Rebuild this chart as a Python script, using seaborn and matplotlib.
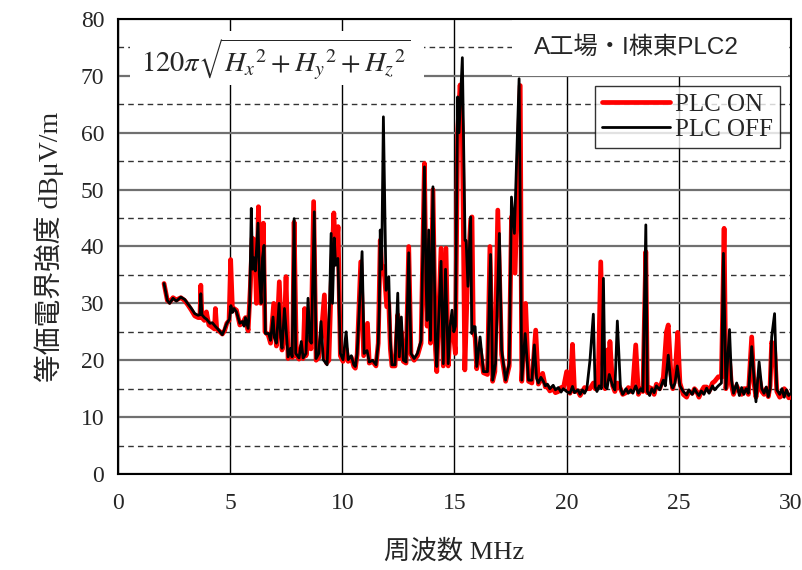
import matplotlib
matplotlib.use('Agg')
import matplotlib.pyplot as plt
import seaborn as sns
import pandas as pd
from matplotlib.patches import Rectangle
from matplotlib.ticker import MultipleLocator

# PLC OFF (black)
freq_off = [2.05, 2.2, 2.3, 2.45, 2.6, 2.8, 2.97, 3.12, 3.27, 3.42, 3.57, 3.65, 3.69, 3.74, 3.85,
            3.95, 4.1, 4.2, 4.35, 4.45, 4.55, 4.65, 4.75, 4.85, 4.97, 5.03, 5.1, 5.17, 5.28, 5.43,
            5.55, 5.62, 5.68, 5.8, 5.87, 5.94, 6.0, 6.07, 6.12, 6.24, 6.3, 6.38, 6.44, 6.51, 6.57,
            6.72, 6.8, 6.91, 6.97, 7.06, 7.18, 7.25, 7.31, 7.42, 7.5, 7.58, 7.69, 7.76, 7.85, 7.92,
            8.07, 8.17, 8.25, 8.38, 8.47, 8.55, 8.62, 8.75, 8.83, 8.95, 9.05, 9.15, 9.32, 9.43, 9.5,
            9.56, 9.64, 9.7, 9.8, 9.91, 10.03, 10.17, 10.26, 10.4, 10.51, 10.58, 10.66, 10.88, 10.97,
            11.1, 11.2, 11.35, 11.5, 11.6, 11.65, 11.69, 11.75, 11.83, 11.95, 12.07, 12.14, 12.21,
            12.35, 12.47, 12.54, 12.63, 12.72, 12.84, 12.96, 13.06, 13.2, 13.35, 13.51, 13.66, 13.73,
            13.78, 13.85, 13.93, 14.04, 14.15, 14.21, 14.4, 14.5, 14.6, 14.72, 14.8, 14.89, 14.97,
            15.04, 15.14, 15.2, 15.35, 15.47, 15.52, 15.6, 15.72, 15.77, 15.84, 15.92, 15.99, 16.14,
            16.29, 16.47, 16.61, 16.7, 16.83, 17.0, 17.1, 17.28, 17.44, 17.54, 17.67, 17.88,
            18.0, 18.15, 18.3, 18.45, 18.56, 18.66, 18.74, 18.85, 18.96, 19.05,
            19.14, 19.25, 19.4, 19.5, 19.63, 19.75, 19.85, 20.0, 20.15, 20.26,
            20.35, 20.5, 20.6, 20.7, 20.8, 20.9, 21.04, 21.19, 21.27, 21.35,
            21.45, 21.55, 21.64, 21.71, 21.8, 21.9, 22.05, 22.15, 22.26, 22.4,
            22.5, 22.65, 22.75, 22.86, 22.95, 23.08, 23.2, 23.3, 23.4, 23.53,
            23.6, 23.7, 23.8, 23.9, 24.0, 24.15, 24.31, 24.4, 24.53, 24.65,
            24.73, 24.83, 24.93, 25.05, 25.2, 25.35, 25.45, 25.6, 25.7, 25.8,
            25.9, 26.0, 26.12, 26.24, 26.35, 26.5, 26.6, 26.76, 26.9, 26.99,
            27.1, 27.26, 27.35, 27.44, 27.58, 27.7, 27.8, 27.9, 28.0, 28.1,
            28.25, 28.35, 28.44, 28.58, 28.7, 28.8, 28.9, 28.99, 29.07, 29.14,
            29.27, 29.37, 29.5, 29.6, 29.7, 29.8, 29.9, 30.0]
db_off = [33.5, 30.5, 30.0, 30.9, 30.4, 31.1, 30.7, 29.9, 29.1, 28.2, 27.9, 28.0, 31.7, 28.0, 27.5,
          27.2, 26.5, 26.6, 25.9, 25.5, 25.0, 24.5, 25.5, 26.5, 27.2, 29.6, 28.4, 29.1, 28.5, 26.5,
          26.8, 26.0, 27.5, 25.6, 30.0, 46.7, 36.0, 38.0, 35.7, 44.1, 35.0, 30.0, 38.0, 40.2, 24.7,
          24.7, 23.5, 27.6, 24.0, 23.0, 30.0, 24.0, 22.1, 29.1, 25.0, 20.6, 22.1, 20.6, 44.9, 21.2,
          20.4, 23.3, 20.4, 21.2, 30.9, 23.4, 23.0, 46.1, 20.3, 21.2, 26.8, 20.1, 19.2, 30.0, 42.3,
          30.0, 41.5, 36.7, 37.9, 21.2, 20.1, 25.0, 20.1, 20.8, 19.2, 18.9, 21.2, 39.1, 21.2,
          21.7, 19.7, 20.0, 19.2, 23.0, 29.4, 42.9, 36.0, 62.8, 32.3, 34.7, 23.5, 19.2,
          19.2, 31.8, 20.6, 27.6, 20.0, 19.7, 38.9, 21.2, 20.3, 21.2, 23.5, 54.0, 34.1,
          27.0, 42.9, 23.5, 50.5, 23.5, 18.9, 37.4, 19.4, 36.0, 19.4, 25.9, 28.8, 25.0,
          26.0, 66.3, 60.0, 73.2, 41.1, 41.0, 33.0, 45.2, 24.7, 25.9, 25.9, 18.9, 24.1,
          18.0, 18.0, 38.6, 16.5, 19.4, 42.3, 21.8, 16.5, 19.5, 48.7, 42.3, 69.5,
          16.5, 24.7, 16.5, 16.5, 22.7, 16.8, 16.0, 17.0, 16.3, 15.5,
          15.8, 15.0, 15.6, 14.8, 15.2, 14.4, 15.0, 14.5, 14.2, 15.4,
          14.3, 14.8, 14.0, 14.8, 14.2, 15.0, 20.0, 28.1, 15.3, 14.5,
          15.5, 15.0, 34.4, 15.4, 15.0, 17.5, 15.5, 14.8, 26.9, 15.1,
          14.0, 15.0, 14.2, 14.8, 14.2, 15.5, 14.2, 15.0, 14.5, 43.8,
          14.5, 13.8, 15.0, 14.3, 15.5, 14.8, 16.5, 15.5, 20.9, 15.8,
          15.1, 16.0, 19.0, 15.5, 14.5, 13.9, 14.8, 14.0, 15.0, 14.3,
          13.8, 14.6, 14.0, 15.1, 14.2, 15.5, 14.8, 15.5, 16.0, 38.8,
          15.0, 25.4, 16.5, 14.2, 16.0, 13.8, 15.2, 14.0, 15.0, 14.2,
          22.4, 17.0, 12.7, 19.7, 15.0, 14.2, 15.3, 13.6, 15.0, 24.1,
          28.2, 14.8, 14.0, 15.0, 13.5, 14.8, 13.8, 14.2]

# PLC ON (red)
freq_on = [2.05, 2.2, 2.3, 2.45, 2.6, 2.8, 2.97, 3.12, 3.27, 3.42, 3.57, 3.65, 3.69, 3.74, 3.85,
           3.94, 4.05, 4.2, 4.3, 4.34, 4.4, 4.55, 4.65, 4.75, 4.85, 4.95, 5.02, 5.1, 5.17, 5.28,
           5.43, 5.55, 5.68, 5.8, 5.9, 5.98, 6.09, 6.17, 6.26, 6.36, 6.48, 6.55, 6.7, 6.8, 6.94,
           7.06, 7.19, 7.31, 7.4, 7.49, 7.58, 7.7, 7.78, 7.85, 7.95, 8.07, 8.17, 8.25, 8.32, 8.38,
           8.5, 8.6, 8.72, 8.83, 8.95, 9.05, 9.2, 9.3, 9.4, 9.5, 9.62, 9.7, 9.81, 9.91, 10.03,
           10.17, 10.26, 10.4, 10.51, 10.58, 10.66, 10.82, 10.95, 11.12, 11.2, 11.35, 11.5, 11.6,
           11.69, 11.77, 11.85, 11.98, 12.07, 12.14, 12.21, 12.35, 12.47, 12.54, 12.63, 12.72,
           12.84, 12.96, 13.06, 13.2, 13.35, 13.51, 13.66, 13.73, 13.78, 13.85, 13.93, 14.04,
           14.15, 14.21, 14.4, 14.5, 14.62, 14.72, 14.8, 14.89, 14.97, 15.04, 15.14, 15.25, 15.35,
           15.46, 15.57, 15.72, 15.78, 15.84, 15.92, 15.99, 16.14, 16.29, 16.47, 16.58, 16.7, 16.8,
           16.93, 17.1, 17.28, 17.44, 17.54, 17.7, 17.93,
           18.0, 18.17, 18.3, 18.45, 18.62, 18.74, 18.85, 18.93, 19.05, 19.14,
           19.25, 19.4, 19.5, 19.63, 19.75, 19.85, 20.0, 20.15, 20.26, 20.35,
           20.5, 20.6, 20.7, 20.8, 20.9, 21.04, 21.19, 21.27, 21.4, 21.52,
           21.64, 21.71, 21.81, 21.87, 21.93, 22.05, 22.15, 22.26, 22.4, 22.5,
           22.65, 22.75, 22.86, 22.95, 23.08, 23.2, 23.3, 23.4, 23.53, 23.6,
           23.7, 23.8, 23.9, 24.0, 24.15, 24.31, 24.45, 24.53, 24.65, 24.73,
           24.83, 24.95, 25.05, 25.2, 25.35, 25.45, 25.6, 25.7, 25.8, 25.9,
           26.0, 26.12, 26.24, 26.35, 26.5, 26.6, 26.76, 26.9, 27.02, 27.1,
           27.26, 27.35, 27.44, 27.58, 27.7, 27.8, 27.9, 28.0, 28.1, 28.25,
           28.35, 28.44, 28.58, 28.7, 28.8, 28.9, 28.99, 29.07, 29.14, 29.27,
           29.37, 29.5, 29.6, 29.7, 29.8, 29.9, 30.0]
db_on = [33.5, 30.5, 30.2, 31.0, 30.6, 31.0, 30.5, 29.7, 28.8, 27.8, 27.5, 27.5, 33.2, 27.5, 27.0,
         28.5, 26.2, 25.8, 25.5, 29.1, 25.5, 25.0, 24.6, 25.2, 26.5, 27.0, 37.7, 29.0, 29.1, 28.8,
         26.2, 26.5, 27.5, 25.2, 33.0, 41.5, 41.1, 30.0, 47.0, 30.0, 44.1, 25.0, 24.4, 23.0, 30.0,
         22.5, 33.8, 21.8, 24.0, 34.7, 20.3, 21.5, 20.5, 44.3, 20.8, 20.2, 22.5, 20.3, 29.1, 20.8,
         24.0, 22.0, 47.9, 20.0, 20.5, 24.0, 31.5, 19.5, 20.0, 33.0, 45.9, 38.0, 43.5, 20.8, 19.8,
         22.0, 19.8, 20.5, 18.9, 18.6, 21.0, 37.3, 20.8, 26.5, 19.5, 19.8, 19.0, 23.0,
         41.1, 35.3, 36.5, 29.4, 30.0, 22.0, 19.0, 19.0, 28.0, 20.3, 25.0, 19.8,
         19.5, 40.0, 21.0, 20.0, 20.8, 23.0, 54.6, 33.0, 26.0, 41.0, 23.0, 50.0,
         22.0, 18.0, 39.7, 19.0, 39.7, 19.0, 25.0, 27.0, 24.0, 21.2, 60.0, 68.4, 60.0,
         18.3, 32.9, 44.6, 45.2, 25.0, 24.0, 18.5, 22.0, 17.8, 17.5, 40.0, 16.3, 18.0,
         46.4, 21.0, 16.3, 19.0, 45.2, 35.3, 68.3,
         16.3, 30.0, 16.3, 16.0, 25.3, 15.8, 16.5, 17.7, 15.3, 15.5,
         14.6, 15.0, 14.3, 14.5, 15.2, 15.0, 18.0, 14.2, 22.8, 14.5,
         14.6, 13.8, 14.5, 15.2, 15.0, 15.0, 16.0, 15.0, 15.5, 37.3,
         18.0, 15.0, 21.8, 17.0, 23.3, 15.5, 14.5, 16.0, 15.0, 14.0,
         14.3, 15.2, 14.5, 15.5, 22.7, 14.0, 15.0, 14.5, 39.1, 14.3,
         15.2, 15.0, 14.0, 15.8, 15.0, 17.0, 25.0, 26.2, 17.5, 15.0,
         17.0, 24.9, 16.0, 14.0, 13.5, 14.5, 14.2, 15.0, 14.5, 13.5,
         14.5, 15.3, 15.3, 14.5, 16.0, 16.3, 17.1, 17.0, 43.2, 15.0,
         20.0, 15.5, 14.0, 15.5, 14.5, 14.0, 15.0, 15.0, 14.0, 24.1,
         16.0, 13.5, 17.0, 14.5, 14.0, 15.0, 13.6, 15.5, 23.2, 22.0,
         14.5, 13.5, 13.8, 15.0, 14.5, 13.4, 13.5]

df_on = pd.DataFrame({'freq': freq_on, 'db': db_on})
df_off = pd.DataFrame({'freq': freq_off, 'db': db_off})

sns.set_style('white')
plt.rcParams['font.family'] = ['Liberation Serif', 'Noto Sans CJK JP']
plt.rcParams['mathtext.fontset'] = 'stix'

fig = plt.figure(figsize=(8.03, 5.70), dpi=100)
ax = fig.add_axes([0.147, 0.1684, 0.838, 0.7983])

sns.lineplot(data=df_on, x='freq', y='db', color='#ff0000', lw=3.4, label='PLC ON',
             estimator=None, sort=False, ax=ax, zorder=3)
sns.lineplot(data=df_off, x='freq', y='db', color='black', lw=2, label='PLC OFF',
             estimator=None, sort=False, ax=ax, zorder=4)

ax.set_xlim(0, 30)
ax.set_ylim(0, 80)
ax.xaxis.set_major_locator(MultipleLocator(5))
ax.yaxis.set_major_locator(MultipleLocator(10))
ax.yaxis.set_minor_locator(MultipleLocator(5))
ax.set_axisbelow(True)
ax.xaxis.grid(True, which='major', color='black', lw=1)
ax.yaxis.grid(True, which='major', color='#707070', lw=1.6)
ax.yaxis.grid(True, which='minor', color='#333333', lw=1, ls=(0, (4, 3)))
ax.tick_params(which='both', length=0, labelsize=17)
ax.tick_params(axis='x', pad=14)
ax.tick_params(axis='y', pad=10)
for s in ax.spines.values():
    s.set_color('black')
    s.set_linewidth(1.5)

ax.set_xlabel('周波数 MHz', fontsize=19, labelpad=18)
ax.set_ylabel('等価電界強度 dBμV/m', fontsize=20, labelpad=12)

# white boxes behind the annotations
ax.add_patch(Rectangle((0.018, 0.855), 0.437, 0.118, transform=ax.transAxes,
                       facecolor='white', edgecolor='none', zorder=1))
ax.add_patch(Rectangle((0.585, 0.875), 0.41, 0.125, transform=ax.transAxes,
                       facecolor='white', edgecolor='none', zorder=1))

ax.text(0.235, 0.912, r'$120\pi\sqrt{{H_x}^2+{H_y}^2+{H_z}^2}$', transform=ax.transAxes,
        ha='center', va='center', fontsize=20.5, zorder=5)
ax.text(0.77, 0.937, 'A工場・I棟東PLC2', transform=ax.transAxes, ha='center', va='center',
        fontsize=17.5, family=['Liberation Sans', 'Noto Sans CJK JP'], zorder=5)

leg = ax.legend(loc='upper right', bbox_to_anchor=(0.984, 0.853), borderaxespad=0,
                fontsize=18, frameon=True, fancybox=False, handlelength=2.7,
                handletextpad=0.2, labelspacing=0.1, borderpad=0.3)
leg.get_frame().set_edgecolor('black')
leg.get_frame().set_linewidth(1)
leg.set_zorder(6)

fig.savefig('out.png', dpi=100)
